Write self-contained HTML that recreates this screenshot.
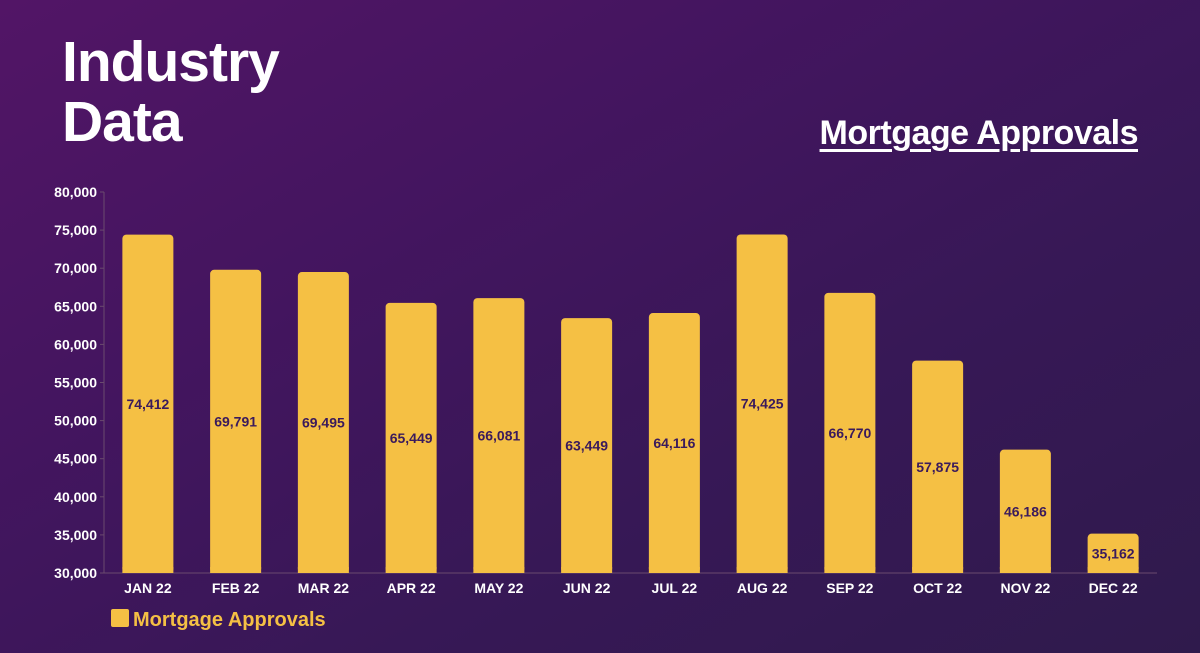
<!DOCTYPE html>
<html><head><meta charset="utf-8"><style>
html,body{margin:0;padding:0}
body{width:1200px;height:653px;overflow:hidden;background:linear-gradient(150deg,#521566 0%,#43155f 35%,#371856 65%,#2f1a4c 100%);font-family:"Liberation Sans",sans-serif;position:relative}
.title{position:absolute;left:62px;top:32px;color:#fff;font-weight:bold;font-size:57px;line-height:60px;letter-spacing:-1px}
.sub{position:absolute;right:62px;top:114px;color:#fff;font-weight:bold;font-size:34px;letter-spacing:-0.5px;text-decoration:underline;text-decoration-thickness:3px;text-underline-offset:5px}
svg{position:absolute;left:0;top:0}
</style></head><body>
<div class="title">Industry<br>Data</div>
<div class="sub">Mortgage Approvals</div>
<svg id="chart" width="1200" height="653"></svg>
<script>
const categories=["JAN 22","FEB 22","MAR 22","APR 22","MAY 22","JUN 22","JUL 22","AUG 22","SEP 22","OCT 22","NOV 22","DEC 22"];
const values=[74412,69791,69495,65449,66081,63449,64116,74425,66770,57875,46186,35162];
const yTicks=[30000,35000,40000,45000,50000,55000,60000,65000,70000,75000,80000];
const NS="http://www.w3.org/2000/svg";
const svg=document.getElementById('chart');
const x0=104,x1=1157,y0=573,y1=192,yMin=30000,yMax=80000;
const band=(x1-x0)/categories.length;
const y=v=>y0-(v-yMin)/(yMax-yMin)*(y0-y1);
const xc=i=>x0+band*(i+0.5);
function mk(t,a,txt){const e=document.createElementNS(NS,t);for(const k in a)e.setAttribute(k,a[k]);if(txt!==undefined)e.textContent=txt;svg.appendChild(e);return e;}
let ax=mk('line',{x1:x0,y1:y1,x2:x0,y2:y0,stroke:'#6a4a6e','stroke-width':1});


let bx=mk('line',{x1:x0,y1:y0,x2:x1,y2:y0,stroke:'#6a4a6e','stroke-width':1});


yTicks.forEach(v=>{
  mk('line',{x1:x0-4,y1:y(v),x2:x0,y2:y(v),stroke:'#6a4a6e'});
  const t=mk('text',{x:x0-7,y:y(v)+5,'text-anchor':'end',fill:'#fff','font-size':14,'font-weight':'bold'},v.toLocaleString('en-US'));
  
  
});
const bw=51;
values.forEach((v,i)=>{
  const r=mk('rect',{x:xc(i)-bw/2,y:y(v),width:bw,height:y0-y(v),rx:4,fill:'#f5c044'});
  
  
  mk('rect',{x:xc(i)-bw/2,y:y0-6,width:bw,height:6,fill:'#f5c044'});
  const l=mk('text',{x:xc(i),y:(y(v)+y0)/2+5,'text-anchor':'middle',fill:'#3a1a5c','font-size':14,'font-weight':'bold'},v.toLocaleString('en-US'));
  
  
  const c=mk('text',{x:xc(i),y:593,'text-anchor':'middle',fill:'#fff','font-size':14,'font-weight':'bold'},categories[i]);
  
  
});
const ls=mk('rect',{x:111,y:609,width:18,height:18,rx:2,fill:'#f5c044'});


const lt=mk('text',{x:133,y:626,fill:'#f5c044','font-size':20,'font-weight':'bold'},'Mortgage Approvals');


</script>
</body></html>
